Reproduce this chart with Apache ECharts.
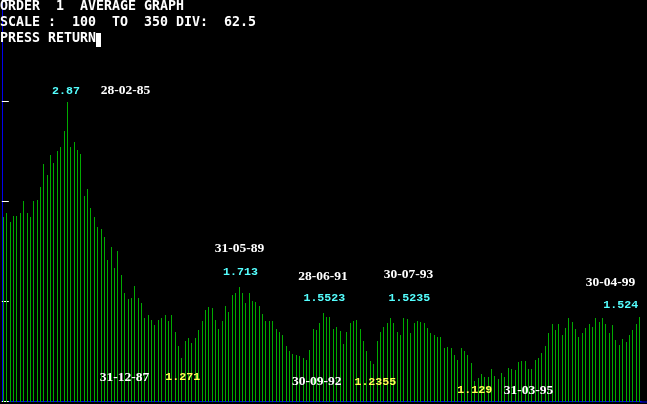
<!DOCTYPE html>
<html>
<head>
<meta charset="utf-8">
<script src="https://cdn.jsdelivr.net/npm/echarts@6/dist/echarts.min.js"></script>
<style>
html,body{margin:0;padding:0;background:#000;}
#chart{width:647px;height:404px;}
</style>
</head>
<body>
<div id="chart"></div>
<script>
// ---- data ----
var headerLines = ['ORDER  1  AVERAGE GRAPH', 'SCALE :  100  TO  350 DIV:  62.5', 'PRESS RETURN'];
var yMin = 1.0, yMax = 3.5, yDiv = 0.625;

var averages = [
  2.150, 2.175, 2.119, 2.157, 2.157, 2.175, 2.250, 2.175, 2.150, 2.250,
  2.256, 2.337, 2.481, 2.412, 2.537, 2.487, 2.562, 2.587, 2.686, 2.870,
  2.587, 2.618, 2.568, 2.543, 2.281, 2.325, 2.206, 2.150, 2.088, 2.075,
  2.026, 1.882, 1.963, 1.832, 1.938, 1.789, 1.676, 1.639, 1.645, 1.720,
  1.645, 1.614, 1.521, 1.539, 1.508, 1.477, 1.508, 1.521, 1.539, 1.502,
  1.539, 1.433, 1.346, 1.271, 1.377, 1.396, 1.365, 1.396, 1.446, 1.502,
  1.570, 1.589, 1.583, 1.508, 1.452, 1.502, 1.595, 1.558, 1.664, 1.676,
  1.713, 1.676, 1.614, 1.676, 1.627, 1.620, 1.595, 1.546, 1.502, 1.502,
  1.502, 1.452, 1.433, 1.415, 1.346, 1.315, 1.296, 1.290, 1.284, 1.271,
  1.259, 1.321, 1.452, 1.446, 1.489, 1.5523, 1.527, 1.527, 1.452, 1.464,
  1.440, 1.358, 1.433, 1.489, 1.502, 1.508, 1.452, 1.377, 1.315, 1.252,
  1.2355, 1.377, 1.433, 1.464, 1.489, 1.5235, 1.489, 1.433, 1.415, 1.521,
  1.514, 1.427, 1.489, 1.502, 1.496, 1.489, 1.458, 1.427, 1.415, 1.402,
  1.402, 1.334, 1.340, 1.334, 1.290, 1.259, 1.334, 1.315, 1.290, 1.240,
  1.129, 1.147, 1.171, 1.153, 1.153, 1.203, 1.159, 1.140, 1.178, 1.153,
  1.209, 1.203, 1.196, 1.246, 1.252, 1.252, 1.203, 1.203, 1.259, 1.271,
  1.302, 1.346, 1.427, 1.483, 1.446, 1.483, 1.415, 1.458, 1.521, 1.496,
  1.452, 1.402, 1.427, 1.458, 1.483, 1.464, 1.520, 1.496, 1.520, 1.483,
  1.427, 1.477, 1.383, 1.352, 1.390, 1.371, 1.415, 1.446, 1.483, 1.524
];
var periods = averages.map(function (v, i) { return String(i + 1); });

// peak / trough annotations: date text and value text
var peakDates  = ['28-02-85', '31-05-89', '28-06-91', '30-07-93', '30-04-99'];
var peakValues = ['2.87', '1.713', '1.5523', '1.5235', '1.524'];
var lowDates   = ['31-12-87', '30-09-92', '31-03-95'];
var lowValues  = ['1.271', '1.2355', '1.129'];

// ---- layout / style ----
var GREEN = '#00AA00', BLUE = '#0000EE', CYAN = '#55FFFF', YELLOW = '#FFFF55', WHITE = '#FFFFFF';
var monoFont = 'bold 13.29px "DejaVu Sans Mono", monospace';
var dateFont = 'bold 13.5px "Liberation Serif", serif';
var valFont = 'bold 11.6px "Liberation Mono", monospace';

var peakDatePos = [[125.5, 91], [239.5, 249], [323, 276.5], [408.5, 274.7], [610.5, 283]];
var peakValPos  = [[66, 91], [240.5, 271.7], [324.3, 298.5], [409.3, 298.5], [620.7, 305.5]];
var lowDatePos  = [[124.5, 377.5], [316.7, 381.7], [528.5, 391]];
var lowValPos   = [[182.7, 377.5], [375.3, 382], [474.7, 390.5]];

var graphics = [];
headerLines.forEach(function (t, i) {
  graphics.push({ type: 'text', x: 0, y: 6.7 + i * 16, z: 10,
    style: { text: t, font: monoFont, fill: WHITE, align: 'left', verticalAlign: 'middle' } });
});
graphics.push({ type: 'rect', shape: { x: 96, y: 33, width: 5, height: 14 }, style: { fill: WHITE }, z: 10 });
// baseline continues to the right screen edge
graphics.push({ type: 'rect', shape: { x: 640, y: 401.5, width: 7, height: 1 }, style: { fill: BLUE }, z: 5 });
function addLabels(texts, pos, font, color) {
  texts.forEach(function (t, i) {
    graphics.push({ type: 'text', x: pos[i][0], y: pos[i][1], z: 10,
      style: { text: t, font: font, fill: color, align: 'center', verticalAlign: 'middle' } });
  });
}
addLabels(peakDates, peakDatePos, dateFont, WHITE);
addLabels(peakValues, peakValPos, valFont, CYAN);
addLabels(lowDates, lowDatePos, dateFont, WHITE);
addLabels(lowValues, lowValPos, valFont, YELLOW);

var chart = echarts.init(document.getElementById('chart'), null, { renderer: 'canvas' });
chart.setOption({
  backgroundColor: '#000000',
  animation: false,
  grid: { left: 1.82, right: 5.78, top: 0.5, bottom: 2.5, containLabel: false },
  xAxis: {
    type: 'category', data: periods, boundaryGap: true,
    axisLine: { show: true, lineStyle: { color: BLUE, width: 1 } },
    axisTick: { show: false }, axisLabel: { show: false }, splitLine: { show: false }
  },
  yAxis: {
    type: 'value', min: yMin, max: yMax, interval: yDiv,
    axisLine: { show: true, lineStyle: { color: BLUE, width: 1 } },
    axisTick: { show: true, inside: true, length: 7, lineStyle: { color: WHITE, width: 1 } },
    axisLabel: { show: false }, splitLine: { show: false }
  },
  graphic: graphics,
  series: [{
    type: 'custom',
    data: averages.map(function (v, i) { return [i, v]; }),
    renderItem: function (params, api) {
      var top = api.coord([api.value(0), api.value(1)]);
      var base = api.coord([api.value(0), yMin]);
      var x = Math.round(top[0] - 0.5);
      var y0 = Math.round(top[1]);
      var y1 = Math.round(base[1]);
      return { type: 'rect', shape: { x: x, y: y0, width: 1, height: y1 - y0 }, style: { fill: GREEN } };
    }
  }]
});
</script>
</body>
</html>
